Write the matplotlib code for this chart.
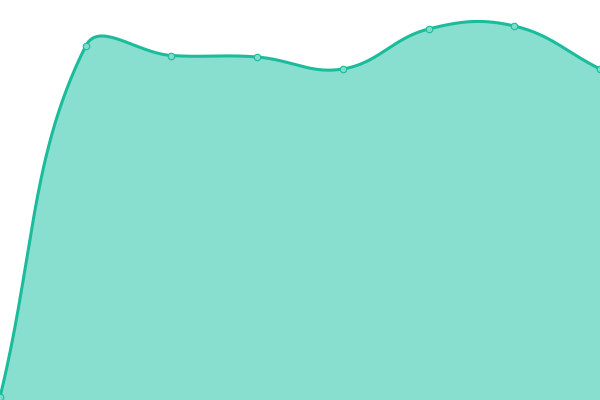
import numpy as np
import matplotlib
matplotlib.use("Agg")
import matplotlib.pyplot as plt

# values (axis 0..400, plot fills whole figure)
labels = ["A", "B", "C", "D", "E", "F", "G", "H"]
values = [3, 354, 344.5, 343, 331, 371, 374, 331]

LINE = "#1abc9c"
FILL = "#89dfcf"
TENSION = 0.4


def spline_controls(pts, t):
    # chart.js style cubic bezier control points
    n = len(pts)
    ctrl = []
    for i in range(n):
        cur = pts[i]
        prev = pts[i - 1] if i > 0 else cur
        nxt = pts[i + 1] if i < n - 1 else cur
        d01 = np.hypot(*(cur - prev))
        d12 = np.hypot(*(nxt - cur))
        tot = d01 + d12
        s01 = d01 / tot if tot else 0
        s12 = d12 / tot if tot else 0
        fa = t * s01
        fb = t * s12
        cp_prev = cur - fa * (nxt - prev)
        cp_next = cur + fb * (nxt - prev)
        ctrl.append((cp_prev, cp_next))
    return ctrl


def bezier_path(pts, t):
    ctrl = spline_controls(pts, t)
    out = []
    s = np.linspace(0, 1, 60)[:, None]
    for i in range(len(pts) - 1):
        p0 = pts[i]
        p1 = ctrl[i][1]
        p2 = ctrl[i + 1][0]
        p3 = pts[i + 1]
        seg = ((1 - s) ** 3) * p0 + 3 * ((1 - s) ** 2) * s * p1 + 3 * (1 - s) * s ** 2 * p2 + s ** 3 * p3
        out.append(seg if i == 0 else seg[1:])
    return np.vstack(out)


fig = plt.figure(figsize=(6, 4), dpi=100)
ax = fig.add_axes([0, 0, 1, 1])
W, H = 600, 400
xs = np.linspace(0, W, len(values))
pts = np.column_stack([xs, values]).astype(float)
curve = bezier_path(pts, TENSION)
curve[:, 1] = np.clip(curve[:, 1], 0, H)

ax.fill_between(curve[:, 0], 0, curve[:, 1], color=FILL, lw=0)
ax.plot(curve[:, 0], curve[:, 1], color=LINE, lw=2.2, solid_capstyle="round")
ax.scatter(xs, values, s=22, color="#7fdcc8", edgecolor=LINE, linewidths=0.8, zorder=3, clip_on=False)

ax.set_xlim(0, W)
ax.set_ylim(0, H)
ax.axis("off")
fig.savefig("out.png", dpi=100)
